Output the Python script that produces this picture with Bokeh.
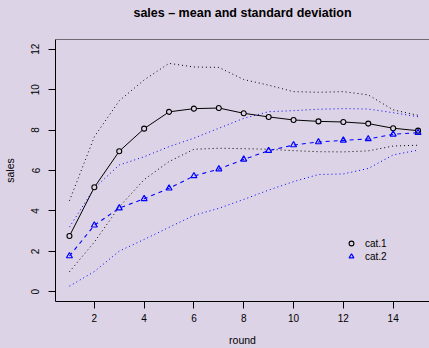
from bokeh.plotting import figure
from bokeh.models import Range1d, FixedTicker, Span, Legend, LegendItem, Title, GlobalInlineStyleSheet
from bokeh.embed import file_html
from bokeh.resources import INLINE

rounds = list(range(1, 16))
cat1_mean = [2.76, 5.17, 6.95, 8.07, 8.90, 9.06, 9.09, 8.83, 8.65, 8.50, 8.43, 8.40, 8.32, 8.09, 7.97]
cat1_upper = [4.50, 7.67, 9.45, 10.48, 11.30, 11.12, 11.10, 10.50, 10.22, 9.90, 9.87, 9.90, 9.74, 9.00, 8.73]
cat1_lower = [0.99, 2.46, 4.20, 5.55, 6.44, 7.05, 7.10, 7.08, 7.05, 6.98, 6.93, 6.92, 6.97, 7.21, 7.25]
cat2_mean = [1.77, 3.29, 4.14, 4.60, 5.12, 5.73, 6.07, 6.55, 6.98, 7.26, 7.41, 7.49, 7.56, 7.79, 7.87]
cat2_upper = [3.20, 5.13, 6.27, 6.68, 7.18, 7.60, 8.09, 8.58, 8.91, 8.96, 9.03, 9.06, 9.04, 8.86, 8.66]
cat2_lower = [0.28, 1.00, 2.01, 2.59, 3.19, 3.78, 4.13, 4.57, 5.03, 5.45, 5.80, 5.83, 6.10, 6.77, 7.01]
x_ticks = [2, 4, 6, 8, 10, 12, 14]
y_ticks = [0, 2, 4, 6, 8, 10, 12]
series_names = ["cat.1", "cat.2"]
title_text = "sales \u2013 mean and standard deviation"
x_title = "round"
y_title = "sales"

BG = "#DDD3E6"
FONT = "Liberation Sans"

p = figure(width=429, height=348, output_backend="svg", toolbar_location=None,
           x_range=Range1d(0.44, 15.46), y_range=Range1d(-0.48, 12.48),
           min_border_left=55, min_border_right=0, min_border_top=39, min_border_bottom=47,
           title=None)
p.stylesheets = [GlobalInlineStyleSheet(css="body { background: %s; }" % BG)]
p.background_fill_color = BG
p.border_fill_color = BG
p.outline_line_color = None
p.xgrid.visible = False
p.ygrid.visible = False

# empty spacer panel between the frame and the title
p.add_layout(Title(text=" ", text_font=FONT, text_font_size="10px", standoff=7), "above")
p.add_layout(Title(text=title_text, align="center", text_font=FONT, text_font_size="12.5px",
                   text_font_style="bold", text_color="black", standoff=0), "above")

for ax in (p.xaxis[0], p.yaxis[0]):
    ax.axis_line_color = "black"
    ax.major_tick_line_color = "black"
    ax.minor_tick_line_color = None
    ax.major_tick_in = 0
    ax.major_tick_out = 7
    ax.major_label_text_font = FONT
    ax.major_label_text_font_size = "10px"
    ax.major_label_text_color = "black"
    ax.axis_label_text_font = FONT
    ax.axis_label_text_font_size = "10.5px"
    ax.axis_label_text_font_style = "normal"
    ax.axis_label_text_color = "black"

p.xaxis.ticker = FixedTicker(ticks=x_ticks)
p.yaxis.ticker = FixedTicker(ticks=y_ticks)
p.xaxis.axis_label = x_title
p.yaxis.axis_label = y_title
p.yaxis.major_label_orientation = "vertical"
p.xaxis.major_label_standoff = 5
p.yaxis.major_label_standoff = 9
p.xaxis.axis_label_standoff = 9
p.yaxis.axis_label_standoff = 13

p.add_layout(Span(location=p.y_range.end, dimension="width", line_color="black", line_width=1))

# sd bands
p.line(rounds, cat1_upper, line_color="black", line_dash="1 3", line_width=1)
p.line(rounds, cat1_lower, line_color="black", line_dash="1 3", line_width=1)
p.line(rounds, cat2_upper, line_color="blue", line_dash="1 3", line_width=1)
p.line(rounds, cat2_lower, line_color="blue", line_dash="1 3", line_width=1)

# means
p.line(rounds, cat1_mean, line_color="black", line_width=1)
r1 = p.scatter(rounds, cat1_mean, marker="circle", size=5, fill_color=BG,
               line_color="black", line_width=1.1)
p.line(rounds, cat2_mean, line_color="blue", line_dash="4 4", line_width=1.1)
r2 = p.scatter(rounds, cat2_mean, marker="triangle", size=6, fill_color=None,
               line_color="blue", line_width=1.2)

legend = Legend(items=[LegendItem(label=series_names[0], renderers=[r1]),
                       LegendItem(label=series_names[1], renderers=[r2])],
                location=(290, 39), orientation="vertical",
                border_line_color=None, background_fill_alpha=0,
                padding=0, margin=0, spacing=1,
                glyph_width=12, glyph_height=12, label_height=12,
                label_standoff=8, label_text_font=FONT, label_text_font_size="10px",
                label_text_color="black")
p.add_layout(legend)

open("out.html", "w").write(file_html(p, INLINE))
